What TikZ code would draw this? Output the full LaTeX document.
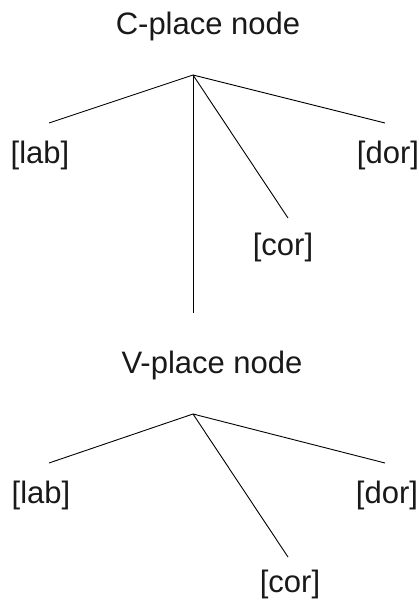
\documentclass[tikz,border=0pt]{standalone}
\usepackage{fontspec}
\setmainfont{Liberation Sans}
\begin{document}
\begin{tikzpicture}[x=1pt,y=-1pt,
  lbl/.style={font=\fontsize{31}{36}\selectfont, text=black!90, inner sep=0pt, anchor=base},
  branch/.style={line width=0.9pt, black}]
\useasboundingbox (0,0) rectangle (418,601);
% upper tree: C-place
\node[lbl] (ctitle) at (208,35) {C-place node};
\coordinate (capex) at (193,75);
\node[lbl] (clab) at (40,164) {[lab]};
\node[lbl] (cdor) at (388,164) {[dor]};
\node[lbl] (ccor) at (283,255) {[cor]};
\coordinate (clabend) at (49,123);
\coordinate (cdorend) at (385,123);
\coordinate (ccorend) at (288,218);
\coordinate (cstem) at (193,313);
\draw[branch] (capex) -- (clabend);
\draw[branch] (capex) -- (cdorend);
\draw[branch] (capex) -- (ccorend);
\draw[branch] (capex) -- (cstem);
% lower tree: V-place
\node[lbl] (vtitle) at (212,373) {V-place node};
\coordinate (vapex) at (193,414);
\node[lbl] (vlab) at (41,503) {[lab]};
\node[lbl] (vdor) at (387,503) {[dor]};
\node[lbl] (vcor) at (290,592) {[cor]};
\coordinate (vlabend) at (49,463);
\coordinate (vdorend) at (385,463);
\coordinate (vcorend) at (288,557);
\draw[branch] (vapex) -- (vlabend);
\draw[branch] (vapex) -- (vdorend);
\draw[branch] (vapex) -- (vcorend);
\end{tikzpicture}
\end{document}
